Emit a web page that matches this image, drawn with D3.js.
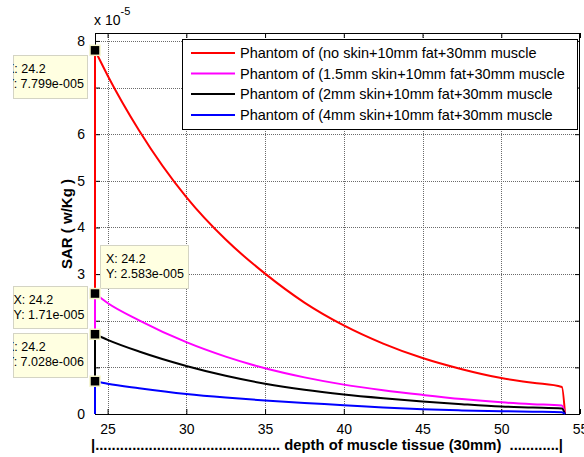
<!DOCTYPE html>
<html lang="en">
<head>
  <meta charset="UTF-8">
  <title>SAR vs depth of muscle tissue</title>
  <script src="https://d3js.org/d3.v7.min.js"></script>
  <style>
    body { margin: 0; background: #fff; }
    text { font-family: Arial, "Liberation Sans", sans-serif; }
  </style>
</head>
<body>
  <div id="chart"></div>

  <script>
    // depth of muscle tissue (mm), SAR values in units of 1e-5 W/kg
    const depth = [24.2, 25, 27, 30, 32.5, 35, 37.5, 40, 42.5, 45, 47.5, 50, 52, 53.85, 54.05];
    const sarNoSkin  = [7.799, 7.26, 6.08, 4.65, 3.74, 3.01, 2.39, 1.90, 1.51, 1.20, 0.96, 0.77, 0.67, 0.58, 0];
    const sarSkin15  = [2.583, 2.38, 2.01, 1.54, 1.23, 0.98, 0.785, 0.63, 0.51, 0.41, 0.32, 0.25, 0.21, 0.18, 0];
    const sarSkin2   = [1.71, 1.59, 1.34, 1.03, 0.82, 0.65, 0.52, 0.42, 0.34, 0.27, 0.21, 0.16, 0.14, 0.12, 0];
    const sarSkin4   = [0.7028, 0.65, 0.554, 0.43, 0.353, 0.29, 0.235, 0.19, 0.138, 0.10, 0.077, 0.06, 0.05, 0.04, 0];

    const seriesNames = [
      "Phantom of (no skin+10mm fat+30mm muscle",
      "Phantom of (1.5mm skin+10mm fat+30mm muscle",
      "Phantom of (2mm skin+10mm fat+30mm muscle",
      "Phantom of (4mm skin+10mm fat+30mm muscle"
    ];
    const seriesValues = [sarNoSkin, sarSkin15, sarSkin2, sarSkin4];
    const colors = ["#ff0000", "#ff00ff", "#000000", "#0000ff"];

    const xTicks = [25, 30, 35, 40, 45, 50, 55];
    const yTicks = [0, 1, 2, 3, 4, 5, 6, 7, 8];

    // data tip boxes (layout only)
    const tips = [
      { s: 0, x: 13, y: 55, w: 74, h: 43, tx: 6 },
      { s: 1, x: 100, y: 245, w: 88, h: 43, tx: 106 },
      { s: 2, x: 13, y: 286, w: 74, h: 42, tx: 13.5 },
      { s: 3, x: 13, y: 333, w: 74, h: 44, tx: 6 }
    ];

    const W = 584, H = 457;
    const plot = { left: 95, right: 580, top: 33, bottom: 414 };

    const x = d3.scaleLinear().domain([24.2, 55]).range([plot.left, plot.right]);
    const y = d3.scaleLinear().domain([0, 8.17]).range([plot.bottom, plot.top]);

    const svg = d3.select("#chart").append("svg")
      .attr("width", W)
      .attr("height", H);

    // grid
    const grid = svg.append("g")
      .attr("stroke", "#6a6a6a")
      .attr("stroke-width", 1)
      .attr("stroke-dasharray", "1,1");
    grid.selectAll(".gx").data(xTicks.filter(d => d < 55)).enter().append("line")
      .attr("x1", d => Math.round(x(d)) + 0.5).attr("x2", d => Math.round(x(d)) + 0.5)
      .attr("y1", plot.top).attr("y2", plot.bottom);
    grid.selectAll(".gy").data(yTicks.filter(d => d > 0)).enter().append("line")
      .attr("y1", d => Math.round(y(d)) + 0.5).attr("y2", d => Math.round(y(d)) + 0.5)
      .attr("x1", plot.left).attr("x2", plot.right);

    // axes (ticks inside, on all four sides)
    const tickLen = 5;
    const fmtY = d3.format("d");
    svg.append("g")
      .attr("transform", `translate(0,${plot.bottom})`)
      .call(d3.axisBottom(x).tickValues(xTicks).tickSizeInner(-tickLen).tickSizeOuter(0).tickPadding(10))
      .call(g => g.select(".domain").remove())
      .call(g => g.selectAll("text").attr("font-size", "14px").attr("fill", "#000"));
    svg.append("g")
      .attr("transform", `translate(0,${plot.top})`)
      .call(d3.axisTop(x).tickValues(xTicks).tickSizeInner(-tickLen).tickSizeOuter(0).tickFormat(""))
      .call(g => g.select(".domain").remove());
    svg.append("g")
      .attr("transform", `translate(${plot.left},0)`)
      .call(d3.axisLeft(y).tickValues(yTicks).tickSizeInner(-tickLen).tickSizeOuter(0).tickPadding(10).tickFormat(fmtY))
      .call(g => g.select(".domain").remove())
      .call(g => g.selectAll("text").attr("font-size", "14px").attr("fill", "#000"));
    svg.append("g")
      .attr("transform", `translate(${plot.right},0)`)
      .call(d3.axisRight(y).tickValues(yTicks).tickSizeInner(-tickLen).tickSizeOuter(0).tickFormat(""))
      .call(g => g.select(".domain").remove());

    svg.append("rect")
      .attr("x", plot.left + 0.5).attr("y", plot.top + 0.5)
      .attr("width", plot.right - plot.left - 1).attr("height", plot.bottom - plot.top)
      .attr("fill", "none").attr("stroke", "#000");

    // exponent label
    const expo = svg.append("text").attr("x", 94).attr("y", 25).attr("font-size", "14px");
    expo.append("tspan").text("x 10");
    expo.append("tspan").attr("dy", -10).attr("font-size", "11px").text("-5");

    // curves
    const line = d3.line()
      .x(d => x(d[0]))
      .y(d => y(d[1]))
      .curve(d3.curveMonotoneX);
    const straight = d3.line().x(d => x(d[0])).y(d => y(d[1]));

    seriesValues.forEach((vals, i) => {
      const pts = depth.map((d, j) => [d, vals[j]]);
      svg.append("path")
        .attr("d", straight([[depth[0], 0], pts[0]]))
        .attr("fill", "none").attr("stroke", colors[i]).attr("stroke-width", 2);
      svg.append("path")
        .attr("d", line(pts))
        .attr("fill", "none").attr("stroke", colors[i]).attr("stroke-width", 2)
        .attr("stroke-linejoin", "round");
    });

    // legend
    const leg = svg.append("g");
    leg.append("rect")
      .attr("x", 182.5).attr("y", 39.5).attr("width", 395).attr("height", 90)
      .attr("fill", "#fff").attr("stroke", "#000");
    const rowY = [53, 73.5, 94, 115];
    seriesNames.forEach((name, i) => {
      leg.append("line")
        .attr("x1", 191).attr("x2", 235).attr("y1", rowY[i]).attr("y2", rowY[i])
        .attr("stroke", colors[i]).attr("stroke-width", 2);
      leg.append("text")
        .attr("x", 240).attr("y", rowY[i] + 5)
        .attr("font-size", "14.5px")
        .text(name);
    });

    // axis labels
    svg.append("text")
      .attr("transform", "translate(72,224) rotate(-90)")
      .attr("text-anchor", "middle")
      .attr("font-size", "15px").attr("font-weight", "bold")
      .text("SAR ( w/Kg )");
    svg.append("text")
      .attr("x", 91).attr("y", 450)
      .attr("font-size", "14.8px").attr("font-weight", "bold")
      .attr("xml:space", "preserve")
      .style("white-space", "pre")
      .text("|............................................. depth of muscle tissue (30mm)  ............|");

    // data tips
    function matlabExp(v) {
      const parts = v.toExponential(3).split("e");
      const m = parts[0].replace(/\.?0+$/, "");
      const e = +parts[1];
      return m + "e" + (e < 0 ? "-" : "+") + String(Math.abs(e)).padStart(3, "0");
    }

    const defs = svg.append("defs");
    tips.forEach((t, k) => {
      const vals = seriesValues[t.s];
      defs.append("clipPath").attr("id", "tipclip" + k)
        .append("rect").attr("x", t.x).attr("y", t.y).attr("width", t.w).attr("height", t.h);
      const g = svg.append("g");
      g.append("rect")
        .attr("x", t.x + 0.5).attr("y", t.y + 0.5).attr("width", t.w).attr("height", t.h)
        .attr("fill", "#ffffe1").attr("stroke", "#d4d4c4");
      const tg = g.append("g").attr("clip-path", `url(#tipclip${k})`).attr("font-size", "12.5px");
      tg.append("text").attr("x", t.tx).attr("y", t.y + 18).text("X: " + depth[0]);
      tg.append("text").attr("x", t.tx).attr("y", t.y + 33).text("Y: " + matlabExp(vals[0] * 1e-5));
      g.append("rect")
        .attr("x", x(depth[0]) - 5).attr("y", y(vals[0]) - 5)
        .attr("width", 10).attr("height", 10)
        .attr("fill", "#000").attr("stroke", "#f4f4c8").attr("stroke-width", 1.5);
    });
  </script>
</body>
</html>
